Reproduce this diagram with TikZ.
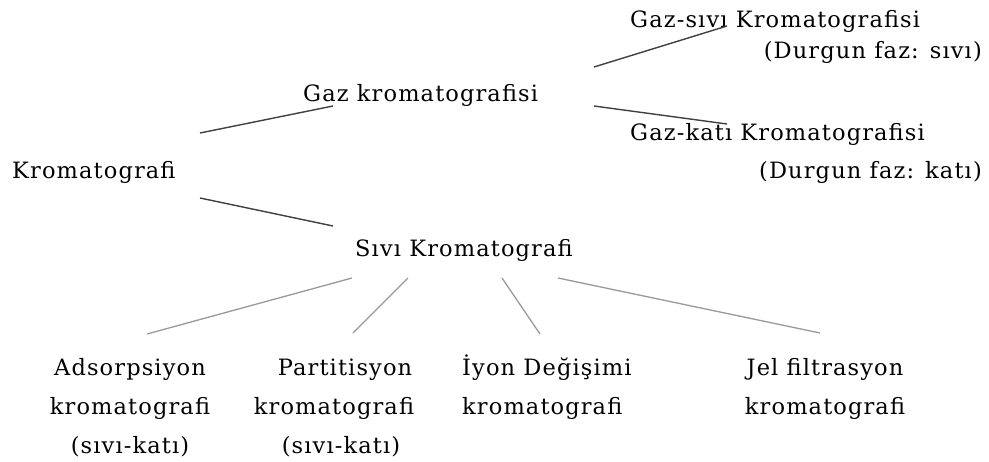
\documentclass[tikz,border=0pt]{standalone}
\usepackage{fontspec}
\setmainfont{DejaVu Serif}[LetterSpace=5]
\begin{document}
\begin{tikzpicture}[x=1pt,y=-1pt,
  lbl/.style={inner sep=0pt,font=\fontsize{22.5}{39}\selectfont},
  topline/.style={draw=black!75,line width=1.4pt},
  subline/.style={draw=black!40,line width=1.3pt}]
\useasboundingbox (0,0) rectangle (989,461);
% main nodes
\node[lbl,anchor=base west] (krom) at (12,178) {Kromatografi};
\node[lbl,anchor=base west] (gaz) at (303,101) {Gaz kromatografisi};
\node[lbl,anchor=base west] (sivi) at (355,256) {Sıvı Kromatografi};
\node[lbl,anchor=base west] (gs) at (630,27) {Gaz-sıvı Kromatografisi};
\node[lbl,anchor=base east] (gsd) at (982,58) {(Durgun faz: sıvı)};
\node[lbl,anchor=base west] (gk) at (630,140) {Gaz-katı Kromatografisi};
\node[lbl,anchor=base east] (gkd) at (982,178) {(Durgun faz: katı)};
\node[lbl,anchor=base,align=center] (ads) at (130,453) {Adsorpsiyon\\kromatografi\\(sıvı-katı)};
\node[lbl,anchor=base,align=center] (par) at (334,453) {\hspace*{22pt}Partitisyon\\kromatografi\\\hspace*{14pt}(sıvı-katı)};
\node[lbl,anchor=base west,align=left] (iyon) at (462,414) {İyon Değişimi\\kromatografi};
\node[lbl,anchor=base,align=center] (jel) at (825,414) {Jel filtrasyon\\kromatografi};
% connector end points
\coordinate (k1) at (200,133); \coordinate (g1) at (333,106);
\coordinate (k2) at (200,198); \coordinate (s1) at (333,226);
\coordinate (g2) at (594,67);  \coordinate (gs1) at (727,26);
\coordinate (g3) at (594,106); \coordinate (gk1) at (727,124);
\coordinate (sa) at (352,278); \coordinate (a1) at (147,334);
\coordinate (sp) at (408,278); \coordinate (p1) at (353,333);
\coordinate (si) at (502,278); \coordinate (i1) at (540,334);
\coordinate (sj) at (558,278); \coordinate (j1) at (820,333);
\draw[topline] (k1) -- (g1);
\draw[topline] (k2) -- (s1);
\draw[topline] (g2) -- (gs1);
\draw[topline] (g3) -- (gk1);
\draw[subline] (sa) -- (a1);
\draw[subline] (sp) -- (p1);
\draw[subline] (si) -- (i1);
\draw[subline] (sj) -- (j1);
\end{tikzpicture}
\end{document}
